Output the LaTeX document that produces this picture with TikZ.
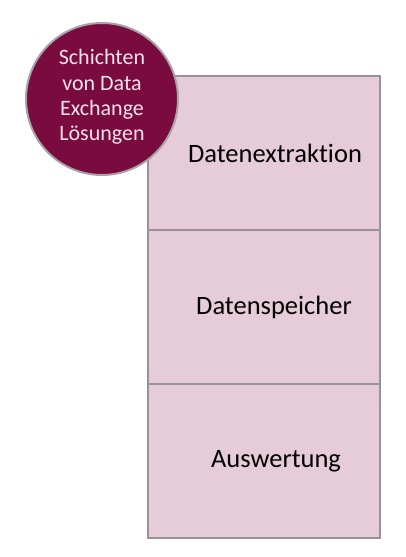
\documentclass[tikz,border=0pt]{standalone}
\usepackage{fontspec}
\setmainfont{Carlito}[Ligatures=NoCommon]
\usetikzlibrary{positioning}
\definecolor{layerfill}{HTML}{E6CCD8}
\definecolor{layerdraw}{HTML}{99929A}
\definecolor{badgefill}{HTML}{7A0B3E}
\definecolor{badgetext}{HTML}{F7E1EB}
\tikzset{
	layer/.style={draw=layerdraw, fill=layerfill, line width=2.8pt,
		minimum width=232pt, minimum height=154pt, inner sep=0pt, outer sep=0pt},
	layer name/.style={font=\fontsize{26.5}{30}\selectfont, text=black, inner sep=0pt},
	badge/.style={circle, draw=layerdraw!85, fill=badgefill, line width=2pt,
		minimum size=152pt, inner sep=0pt, align=center, text=badgetext,
		font=\fontsize{22}{25.5}\selectfont}
}

\begin{document}
\begin{tikzpicture}[x=1pt, y=1pt]
	\useasboundingbox (0,0) rectangle (405,-557);
	\node[layer, label={[layer name, xshift=11pt]center:Datenextraktion}] (extract) at (264,-153) {};
	\node[layer, below=0pt of extract, label={[layer name, xshift=10pt]center:Datenspeicher}] (store) {};
	\node[layer, below=0pt of store, label={[layer name, xshift=12pt]center:Auswertung}] (report) {};
	\node[badge] (layers) at (102,-99) {};
	\node[align=center, text=badgetext, font=\fontsize{22}{25.5}\selectfont, inner sep=0pt]
		at ([yshift=2pt]layers.center) {Schichten\\von Data\\Exchange\\Lösungen};
\end{tikzpicture}
\end{document}
